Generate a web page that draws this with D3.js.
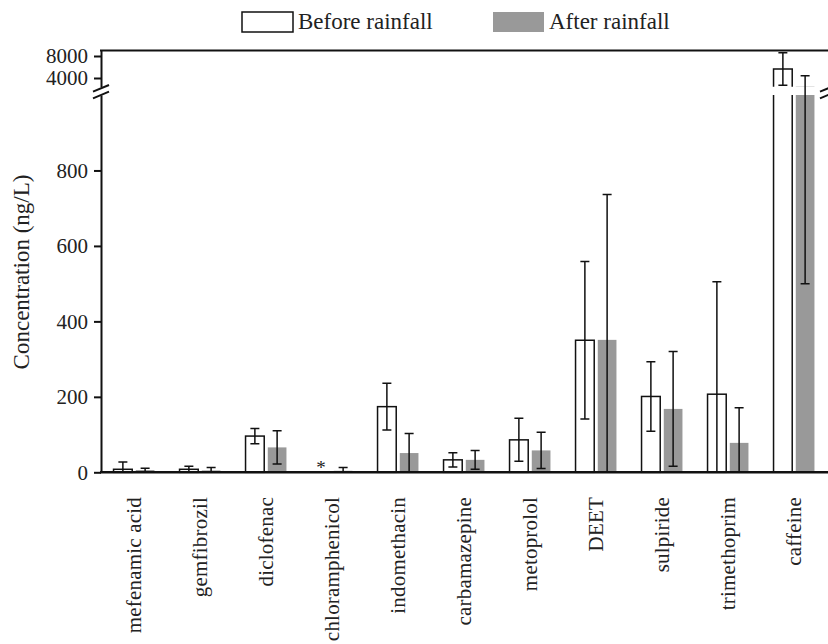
<html>
  <head>
    <script src="https://cdnjs.cloudflare.com/ajax/libs/d3/7.9.0/d3.min.js"></script>
    <style>
      body { margin: 0; background: white; }
      text { font-family: 'Liberation Serif', 'Times New Roman', serif; fill: #222; }
    </style>
  </head>
  <body onload="main()">
  </body>
  <script>
    const categories = ['mefenamic acid', 'gemfibrozil', 'diclofenac', 'chloramphenicol', 'indomethacin',
      'carbamazepine', 'metoprolol', 'DEET', 'sulpiride', 'trimethoprim', 'caffeine']
    const seriesNames = ['Before rainfall', 'After rainfall']
    const beforeMean = [8, 8, 96, 0, 174, 33, 86, 350, 201, 207, 5650]
    const beforeSD = [19, 8, 20, 0, 62, 19, 57, 209, 92, 298, 2950]
    const afterMean = [6, 5, 66, 4, 51, 33, 58, 351, 168, 78, 2450]
    const afterSD = [5, 8, 44, 9, 52, 25, 48, 385, 152, 93, 1950]
    const lowTicks = [0, 200, 400, 600, 800]
    const highTicks = [4000, 8000]
    const lowDomain = [0, 1000]
    const highDomain = [2400, 9000]

    function main() {
      const width = 828
      const height = 644
      const left = 101
      const right = 827
      const svg = d3.select('body')
        .append('svg')
        .attr('width', width)
        .attr('height', height)

      const yLow = d3.scaleLinear(lowDomain, [472.3, 95])
      const yHigh = d3.scaleLinear(highDomain, [86.8, 50.5])
      // values falling inside the break are squeezed into the gap
      const yGap = d3.scaleLinear([lowDomain[1], highDomain[0]], [95, 86.8])
      const y = v => v <= lowDomain[1] ? yLow(v) : v >= highDomain[0] ? yHigh(v) : yGap(v)

      const x0 = d3.scaleBand(categories, [left, right]).paddingInner(0.38).paddingOuter(0.19)
      const x1 = d3.scaleBand(['before', 'after'], [0, x0.bandwidth()]).paddingInner(0.16)

      const rows = []
      categories.forEach((c, i) => {
        rows.push({ cat: c, key: 'before', mean: beforeMean[i], sd: beforeSD[i] })
        rows.push({ cat: c, key: 'after', mean: afterMean[i], sd: afterSD[i] })
      })
      const bw = x1.bandwidth()
      const bx = d => x0(d.cat) + x1(d.key)
      const fill = d => d.key === 'before' ? 'white' : '#999999'

      const bars = svg.append('g')
      rows.filter(d => d.mean > 0).forEach(d => {
        const g = bars.append('g')
        const xa = bx(d)
        const xb = xa + bw
        if (d.mean <= lowDomain[1]) {
          g.append('rect')
            .attr('x', xa).attr('width', bw)
            .attr('y', yLow(d.mean)).attr('height', yLow(0) - yLow(d.mean))
            .attr('fill', fill(d))
            .attr('stroke', d.key === 'before' ? '#111' : 'none')
            .attr('stroke-width', 1.5)
        } else {
          // lower piece (full) and upper piece above the break
          g.append('rect')
            .attr('x', xa).attr('width', bw)
            .attr('y', yLow(lowDomain[1])).attr('height', yLow(0) - yLow(lowDomain[1]))
            .attr('fill', fill(d))
          g.append('rect')
            .attr('x', xa).attr('width', bw)
            .attr('y', yHigh(d.mean)).attr('height', yHigh(highDomain[0]) - yHigh(d.mean))
            .attr('fill', fill(d))
          if (d.key === 'before') {
            g.append('path')
              .attr('d', `M${xa},${yLow(0)}V${yLow(lowDomain[1])}M${xb},${yLow(0)}V${yLow(lowDomain[1])}` +
                `M${xa},${yHigh(highDomain[0])}V${yHigh(d.mean)}H${xb}V${yHigh(highDomain[0])}`)
              .attr('fill', 'none')
              .attr('stroke', '#111')
              .attr('stroke-width', 1.5)
          }
        }
      })

      // error bars
      const errs = svg.append('g')
        .attr('stroke', '#111')
        .attr('stroke-width', 1.5)
        .attr('fill', 'none')
      rows.filter(d => d.sd > 0).forEach(d => {
        const cx = bx(d) + bw / 2
        const hi = d.mean + d.sd
        const lo = Math.max(0, d.mean - d.sd)
        let p = `M${cx},${y(lo)}V${y(hi)}M${cx - 4.5},${y(hi)}H${cx + 4.5}`
        if (d.mean - d.sd > 0) p += `M${cx - 4.5},${y(lo)}H${cx + 4.5}`
        errs.append('path').attr('d', p)
      })

      // not detected marker
      svg.append('g')
        .selectAll('text')
        .data(rows.filter(d => d.key === 'before' && d.mean === 0))
        .enter()
        .append('text')
        .attr('x', d => bx(d) + bw / 2)
        .attr('y', 474)
        .attr('text-anchor', 'middle')
        .style('font-size', '19px')
        .text('*')

      // axes
      const axLow = svg.append('g')
        .attr('transform', `translate(${left},0)`)
        .call(d3.axisLeft(yLow).tickValues(lowTicks).tickFormat(d3.format('d')).tickSize(7).tickSizeOuter(0).tickPadding(6))
      const axHigh = svg.append('g')
        .attr('transform', `translate(${left},0)`)
        .call(d3.axisLeft(yHigh).tickValues(highTicks).tickFormat(d3.format('d')).tickSize(7).tickSizeOuter(0).tickPadding(6))
      ;[axLow, axHigh].forEach(ax => {
        ax.selectAll('path, line').attr('stroke', '#111').attr('stroke-width', 2)
        ax.selectAll('text').style('font-size', '21px').attr('fill', '#222')
      })

      svg.append('line')
        .attr('x1', left - 1).attr('x2', width)
        .attr('y1', yLow(0)).attr('y2', yLow(0))
        .attr('stroke', '#111').attr('stroke-width', 2.5)
      svg.append('line')
        .attr('x1', left - 1).attr('x2', width)
        .attr('y1', yHigh(highDomain[1])).attr('y2', yHigh(highDomain[1]))
        .attr('stroke', '#111').attr('stroke-width', 2)

      // break marks on both sides
      const breakYs = [yHigh(highDomain[0]) + 1.5, yLow(lowDomain[1])]
      ;[left, width].forEach(bxPos => {
        breakYs.forEach(by => {
          svg.append('line')
            .attr('x1', bxPos - 8).attr('y1', by + 3.3)
            .attr('x2', bxPos + 8).attr('y2', by - 3.3)
            .attr('stroke', '#111').attr('stroke-width', 2)
        })
      })

      // category labels, hanging from just under the axis
      svg.append('g')
        .selectAll('text')
        .data(categories)
        .enter()
        .append('text')
        .attr('transform', d => `translate(${x0(d) + x0.bandwidth() / 2},497) rotate(-90)`)
        .attr('text-anchor', 'end')
        .attr('dominant-baseline', 'central')
        .style('font-size', '21px')
        .style('letter-spacing', '0.2px')
        .text(d => d)

      svg.append('text')
        .attr('transform', 'translate(29,272) rotate(-90)')
        .attr('text-anchor', 'middle')
        .style('font-size', '23px')
        .text('Concentration (ng/L)')

      // legend
      const legendX = [242, 493]
      const legend = svg.append('g')
        .selectAll('g')
        .data(seriesNames)
        .enter()
        .append('g')
        .attr('transform', (d, i) => `translate(${legendX[i]},12)`)
      legend.append('rect')
        .attr('width', 51)
        .attr('height', 20)
        .attr('fill', (d, i) => i === 0 ? 'white' : '#999999')
        .attr('stroke', (d, i) => i === 0 ? '#111' : 'none')
        .attr('stroke-width', 1.5)
      legend.append('text')
        .attr('x', 56)
        .attr('y', 17)
        .style('font-size', '23px')
        .text(d => d)
    }
  </script>
</html>
